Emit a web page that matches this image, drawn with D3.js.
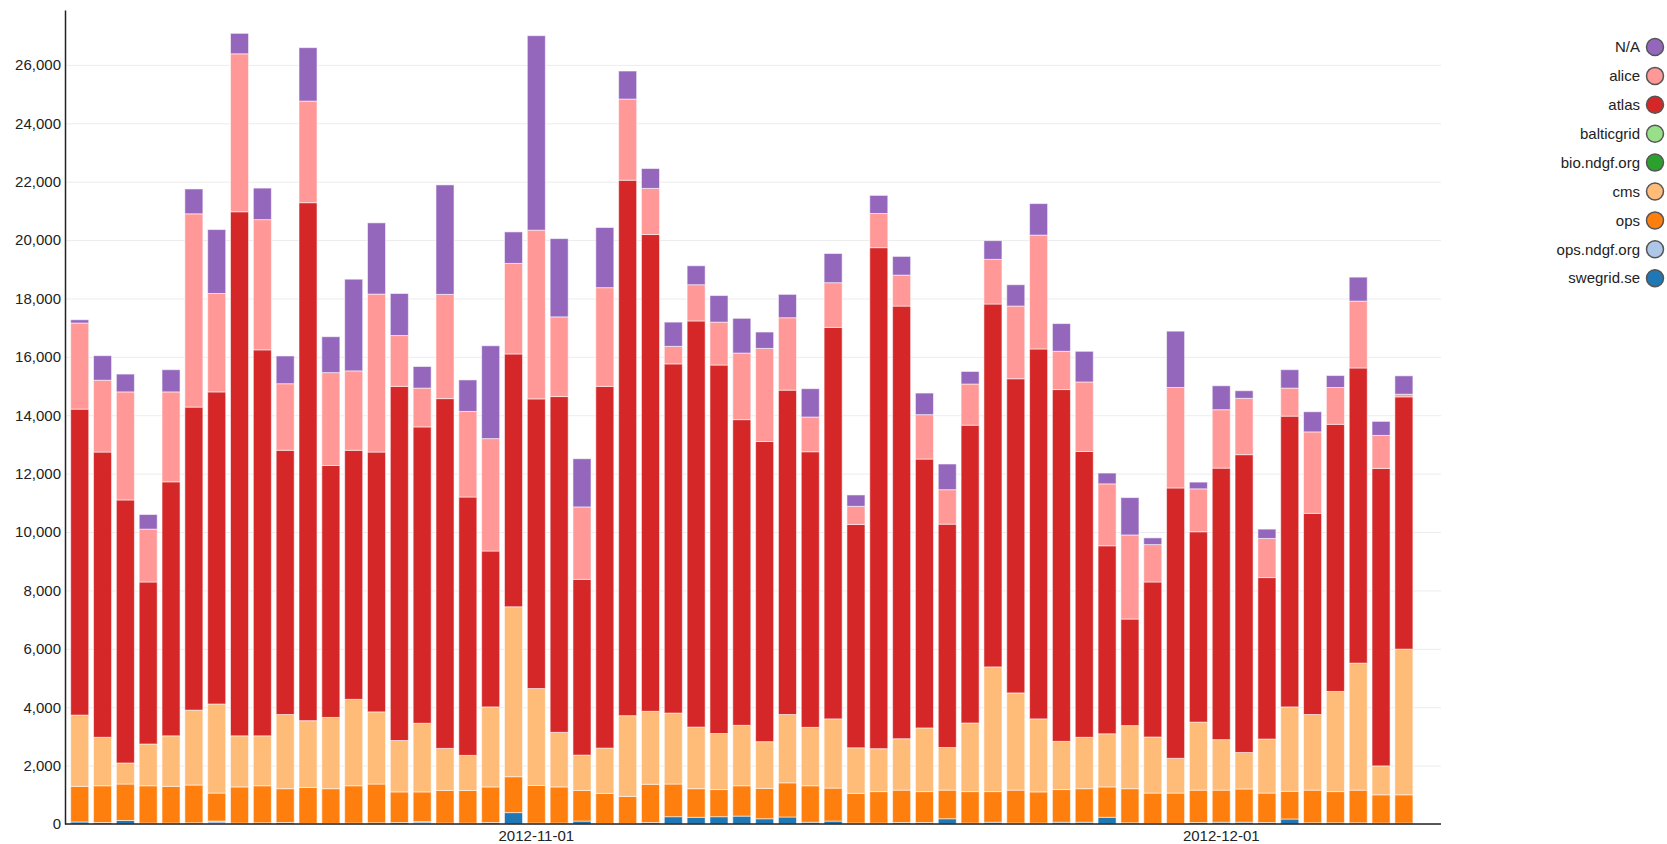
<!DOCTYPE html>
<html>
<head>
<meta charset="utf-8">
<script src="https://cdn.jsdelivr.net/npm/d3@7"></script>
<style>
  body { margin: 0; background: #fff; }
  svg { display: block; font-family: 'Liberation Sans', Arial, sans-serif; }
</style>
</head>
<body>
<div id="chart"></div>
<script>
const dates = [
  '2012-10-12','2012-10-13','2012-10-14','2012-10-15','2012-10-16','2012-10-17','2012-10-18','2012-10-19','2012-10-20','2012-10-21',
  '2012-10-22','2012-10-23','2012-10-24','2012-10-25','2012-10-26','2012-10-27','2012-10-28','2012-10-29','2012-10-30','2012-10-31',
  '2012-11-01','2012-11-02','2012-11-03','2012-11-04','2012-11-05','2012-11-06','2012-11-07','2012-11-08','2012-11-09','2012-11-10',
  '2012-11-11','2012-11-12','2012-11-13','2012-11-14','2012-11-15','2012-11-16','2012-11-17','2012-11-18','2012-11-19','2012-11-20',
  '2012-11-21','2012-11-22','2012-11-23','2012-11-24','2012-11-25','2012-11-26','2012-11-27','2012-11-28','2012-11-29','2012-11-30',
  '2012-12-01','2012-12-02','2012-12-03','2012-12-04','2012-12-05','2012-12-06','2012-12-07','2012-12-08','2012-12-09'
]
const xTicks = ['2012-11-01', '2012-12-01']
const yTicks = [0, 2000, 4000, 6000, 8000, 10000, 12000, 14000, 16000, 18000, 20000, 22000, 24000, 26000]

// stack order, bottom first
const keys = ['swegrid.se', 'ops.ndgf.org', 'ops', 'cms', 'bio.ndgf.org', 'balticgrid', 'atlas', 'alice', 'N/A']
const colors = ['#1f77b4', '#aec7e8', '#ff7f0e', '#ffbb78', '#2ca02c', '#98df8a', '#d62728', '#ff9896', '#9467bd']

const swegrid = [70,50,120,30,30,40,0,30,40,50, 20,20,30,40,50,0,30,30,50,390, 30,30,100,20,20,50,250,230,250,270,
  180,240,60,100,30,30,50,50,180,30, 60,30,30,60,60,230,40,20,20,50, 60,60,50,170,40,40,40,30,30]
const opsNdgf = [0,0,0,0,0,0,100,0,0,0, 0,0,0,0,0,80,0,0,0,0, 0,0,0,0,0,0,0,0,0,0,
  0,0,0,0,0,0,0,0,0,0, 0,0,0,0,0,0,0,0,0,0, 0,0,0,0,0,0,0,0,0]
const ops = [1220,1260,1250,1280,1260,1295,960,1240,1270,1160, 1230,1190,1280,1330,1050,1020,1120,1120,1220,1230,
  1290,1240,1050,1030,925,1310,1120,980,930,1040, 1040,1170,1250,1130,1020,1080,1110,1060,980,1080,
  1050,1130,1070,1120,1150,1040,1170,1040,1040,1110, 1100,1140,1010,950,1120,1070,1120,970,970]
const cms = [2440,1660,720,1430,1730,2565,3050,1750,1710,2540, 2290,2440,2960,2470,1760,2350,1440,1200,2740,5820,
  3320,1870,1210,1550,2765,2500,2430,2110,1920,2070, 1600,2340,2000,2370,1560,1470,1760,2180,1460,2350,
  4270,3330,2500,1650,1760,1820,2160,1920,1190,2330, 1730,1250,1850,2890,2590,3430,4350,990,4990]
const bioNdgf = [0,0,0,0,0,0,0,0,0,0, 0,0,0,0,0,0,0,0,0,0, 0,0,0,0,0,0,0,0,0,0,
  0,0,0,0,0,0,0,0,0,0, 0,0,0,0,0,0,0,0,0,0, 0,0,0,0,0,0,0,0,0]
const balticgrid = [0,0,0,0,0,0,0,0,0,0, 0,0,0,0,0,0,0,0,0,0, 0,0,0,0,0,0,0,0,0,0,
  0,0,0,0,0,0,0,0,0,0, 0,0,0,0,0,0,0,0,0,0, 0,0,0,0,0,0,0,0,0]
const atlas = [10480,9770,9010,5550,8700,10380,10690,17950,13220,9050, 17740,8630,8530,8900,12130,10150,11980,8850,5340,8660,
  9920,11500,6020,12390,18340,16330,11960,13910,12620,10470, 10280,11110,9440,13410,7650,17160,14820,9210,7650,10200,
  12430,10760,12670,12050,9790,6440,3650,5310,9260,6520, 9300,10200,5530,9960,6890,9150,10110,10190,8640]
const alice = [2950,2460,3700,1810,3080,6620,3370,5410,4460,2280, 3480,3180,2720,5410,1740,1330,3570,2930,3850,3100,
  5780,2730,2480,3380,2780,1580,600,1240,1470,2280, 3190,2480,1190,1530,620,1170,1060,1520,1180,1410,
  1530,2490,3900,1310,2380,2120,2880,1280,3440,1470, 2000,1930,1340,960,2790,1260,2290,1130,90]
const na = [110,840,610,500,760,850,2190,700,1080,950, 1830,1230,3140,2440,1440,740,3750,1080,3180,1080,
  6660,2680,1650,2060,960,680,830,650,910,1190, 560,800,970,1000,390,620,640,740,880,430,
  640,730,1080,950,1050,370,1280,230,1930,230, 820,260,320,630,690,410,820,480,630]

const series = [swegrid, opsNdgf, ops, cms, bioNdgf, balticgrid, atlas, alice, na]

const rows = dates.map((d, i) => {
  let row = { date: d }
  keys.forEach((k, j) => { row[k] = series[j][i] })
  return row
})

const svgWidth = 1667, svgHeight = 844
const margin = { top: 10, right: 226, bottom: 20, left: 65 }
const width = svgWidth - margin.left - margin.right
const height = 814

const svg = d3.select('#chart')
    .append('svg')
    .attr('width', svgWidth)
    .attr('height', svgHeight)

const canvas = svg.append('g')
    .attr('transform', 'translate(' + margin.left + ',' + margin.top + ')')

const x = d3.scaleBand()
    .domain(dates)
    .range([3.3, width - 25.7])
    .paddingInner(0.21)
    .paddingOuter(0.105)

const y = d3.scaleLinear()
    .domain([0, 27880])
    .range([height, 0])

const color = d3.scaleOrdinal().domain(keys).range(colors)

// grid lines
canvas.append('g')
    .attr('class', 'grid')
    .call(d3.axisLeft(y).tickValues(yTicks).tickSize(-width).tickFormat(''))
    .call(g => g.select('.domain').remove())
    .call(g => g.selectAll('line').attr('stroke', '#ececec'))

const stacked = d3.stack().keys(keys)(rows)

canvas.append('g')
  .selectAll('g')
  .data(stacked)
  .join('g')
    .attr('fill', d => color(d.key))
  .selectAll('rect')
  .data(d => d)
  .join('rect')
    .attr('x', d => x(d.data.date))
    .attr('y', d => y(d[1]))
    .attr('width', x.bandwidth())
    .attr('height', d => y(d[0]) - y(d[1]))
    .attr('stroke', '#fff')
    .attr('stroke-opacity', 0.55)
    .attr('stroke-width', 1)

// y axis
const yAxis = canvas.append('g')
    .call(d3.axisLeft(y).tickValues(yTicks).tickSize(0).tickPadding(4).tickFormat(d3.format(',')))
yAxis.select('.domain').attr('stroke', '#222').attr('stroke-width', 1.5)
yAxis.selectAll('text').attr('fill', '#222').style('font-size', '15px')

// x axis
const xAxis = canvas.append('g')
    .attr('transform', 'translate(0,' + height + ')')
    .call(d3.axisBottom(x).tickValues(xTicks).tickSize(0).tickPadding(6))
xAxis.select('.domain').attr('d', 'M0,0H' + width).attr('stroke', '#222').attr('stroke-width', 1.5)
xAxis.selectAll('text').attr('fill', '#222').style('font-size', '15px')

// legend
const legend = svg.append('g')
  .selectAll('g')
  .data(keys.slice().reverse())
  .join('g')
    .attr('transform', (d, i) => 'translate(1655,' + (47 + i * 28.9) + ')')

legend.append('circle')
    .attr('r', 8.5)
    .attr('fill', d => color(d))
    .attr('stroke', '#555')
    .attr('stroke-width', 1.5)

legend.append('text')
    .attr('x', -15)
    .attr('dy', '0.35em')
    .attr('text-anchor', 'end')
    .attr('fill', '#222')
    .style('font-size', '15px')
    .text(d => d)
</script>
</body>
</html>
